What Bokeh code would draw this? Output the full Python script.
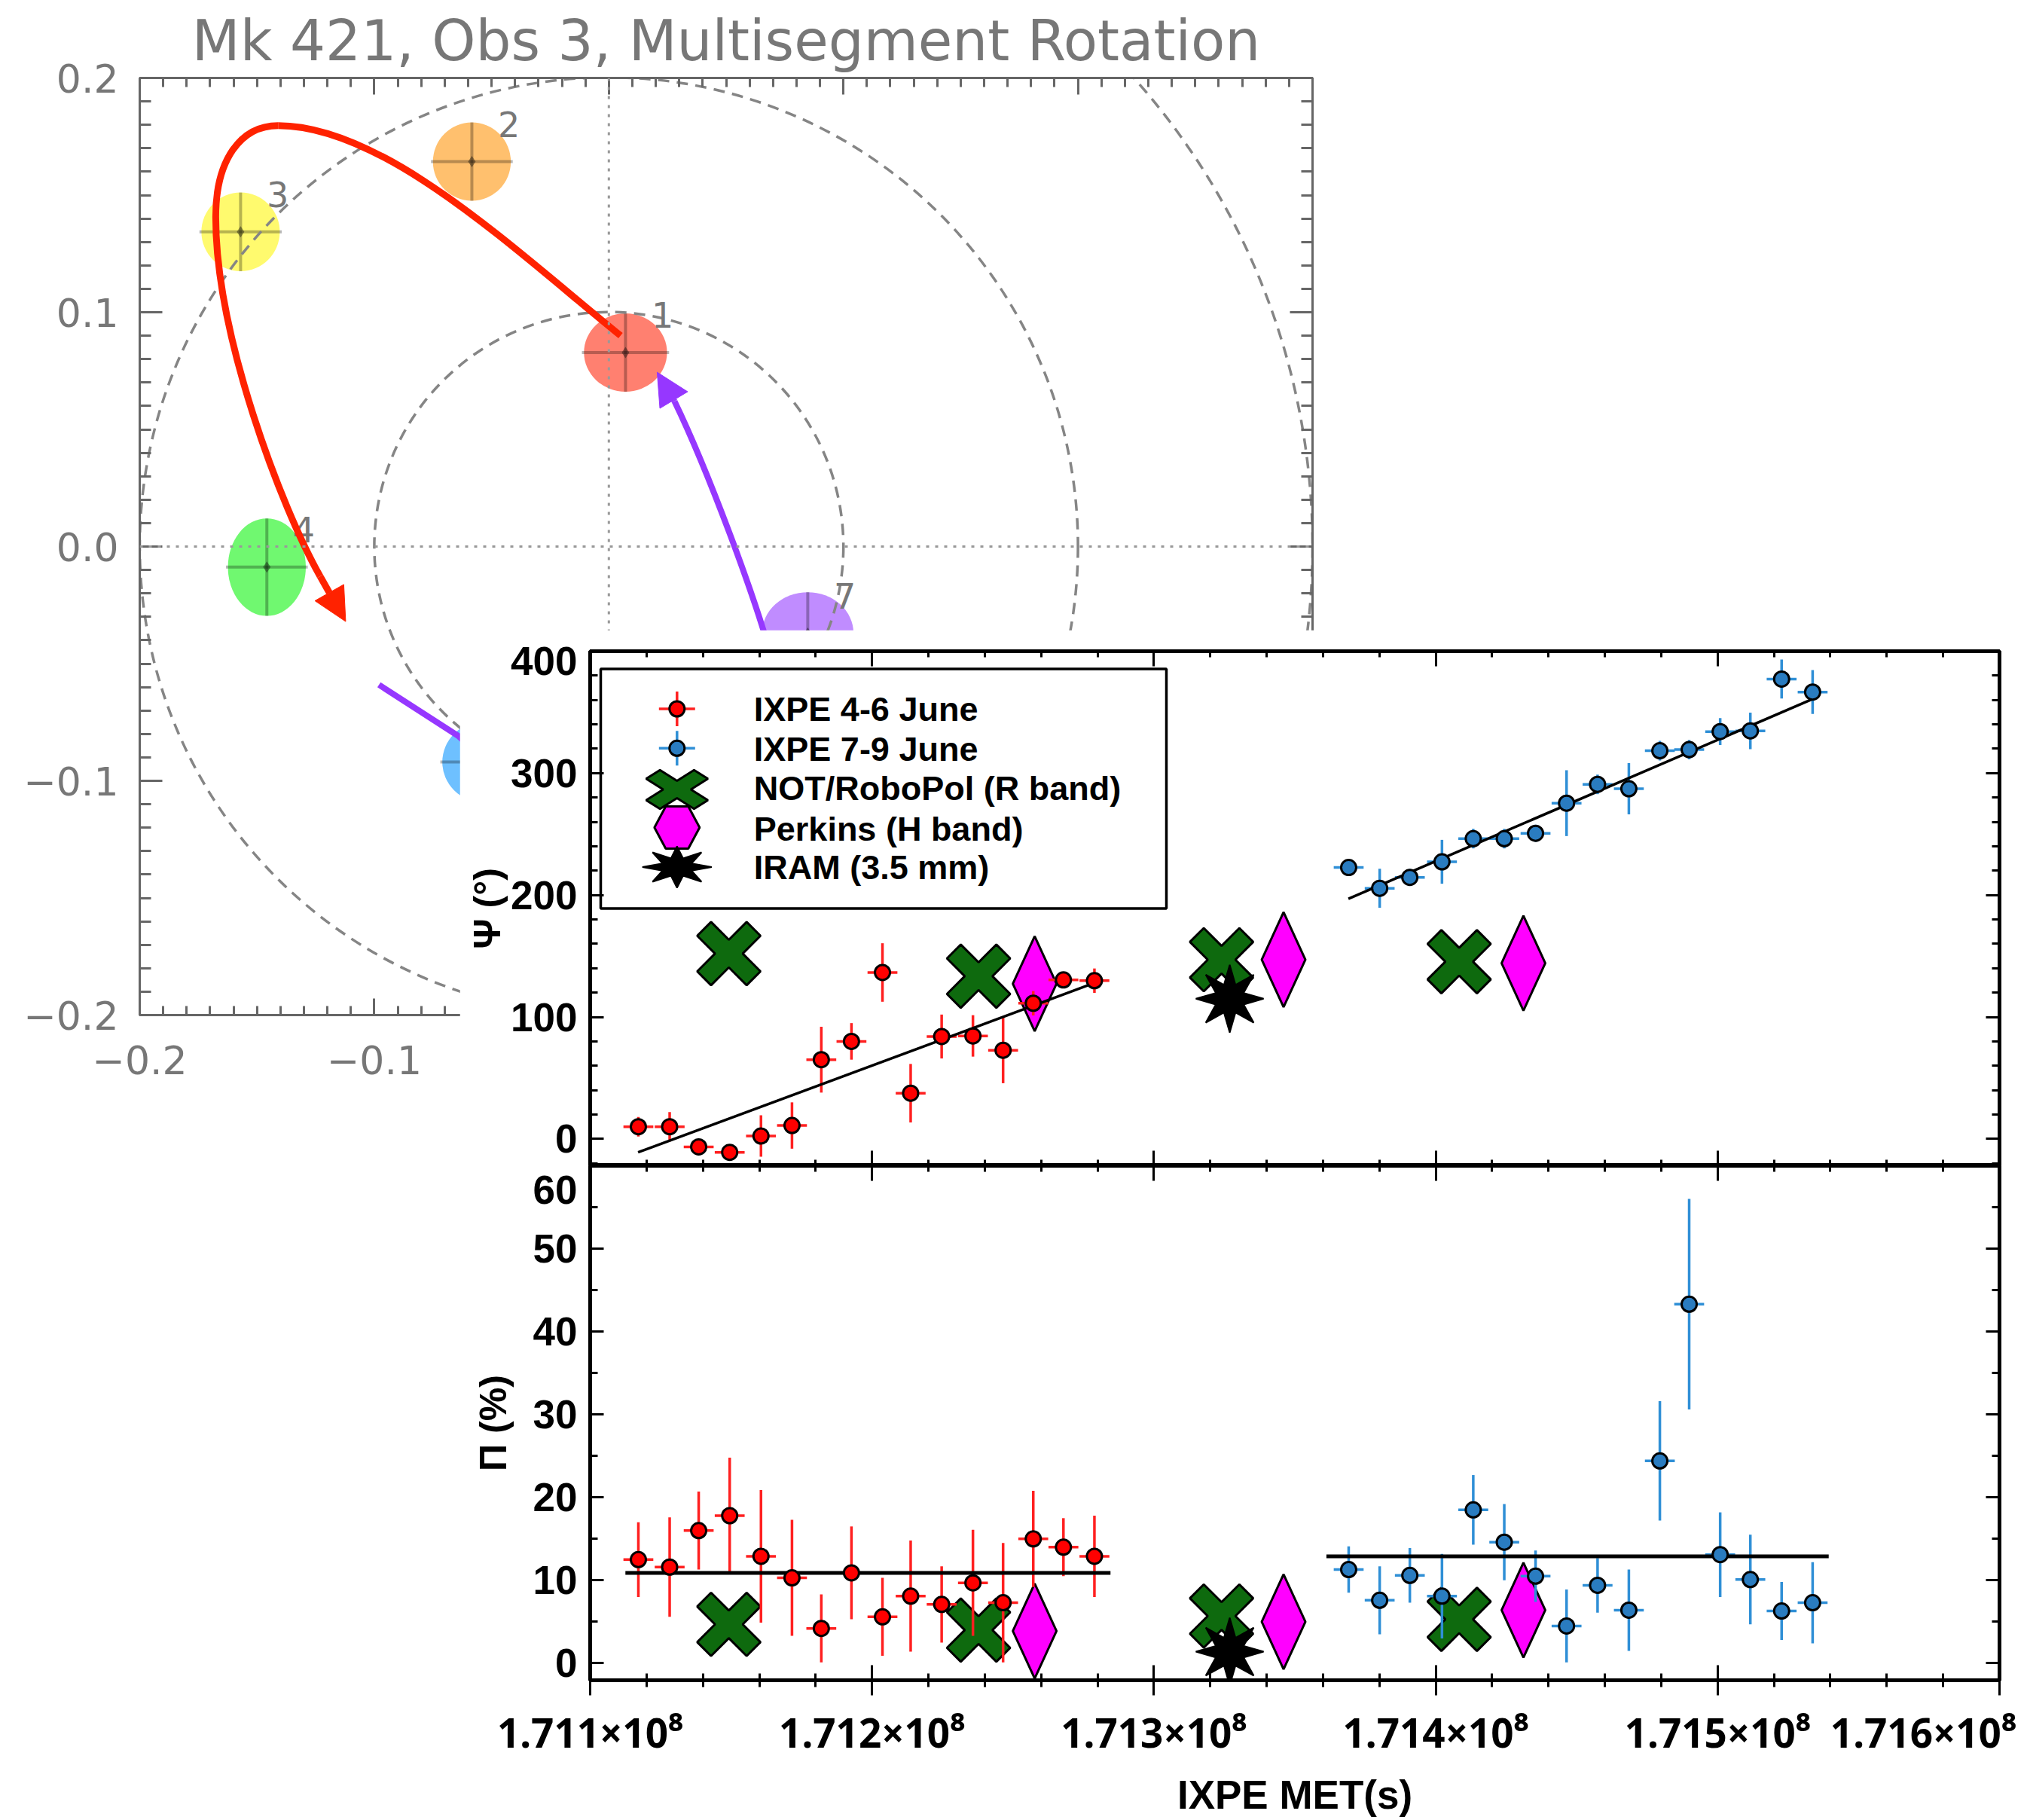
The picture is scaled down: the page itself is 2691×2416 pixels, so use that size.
import math
from bokeh.plotting import figure
from bokeh.models import (Range1d, LinearAxis, SingleIntervalTicker, FixedTicker, CustomJSTickFormatter,
                          Arrow, NormalHead, Span, GridBox)
from bokeh.embed import file_html
from bokeh.resources import INLINE
from bokeh.core.properties import value

# ================= data: Q-U plane (Mk 421, Obs 3) =================
seg_labels = ["1", "2", "3", "4", "5", "7"]
seg_q = [0.0071, -0.0584, -0.1570, -0.1458, -0.0540, 0.0848]
seg_u = [0.0828, 0.1643, 0.1343, -0.0088, -0.0920, -0.0370]
seg_q_err = [0.0177, 0.0166, 0.0167, 0.0166, 0.0170, 0.0195]
seg_u_err = [0.0167, 0.0167, 0.0168, 0.0208, 0.0170, 0.0175]
seg_colors = ["#FF8070", "#FFC06E", "#FFFA6E", "#70F870", "#6EC0FF", "#C08CFF"]
pd_circles = [0.1, 0.2, 0.3]

# red rotation arrow (cubic Bezier pieces) and its head
red_x0 = [0.0050, -0.1410, -0.1676]
red_y0 = [0.0900, 0.1797, 0.1407]
red_x1 = [-0.1410, -0.1676, -0.1231]
red_y1 = [0.1797, 0.1407, -0.0127]
red_cx0 = [-0.0416, -0.1570, -0.1676]
red_cy0 = [0.1279, 0.1797, 0.0900]
red_cx1 = [-0.0960, -0.1676, -0.1396]
red_cy1 = [0.1797, 0.1650, 0.0166]
red_tip = [-0.1122, -0.0320]
# purple rotation arrow
purple_path1_q = [-0.098, -0.064, -0.054]
purple_path1_u = [-0.059, -0.081, -0.090]
purple_x0, purple_y0 = [0.0700], [-0.0500]
purple_cx0, purple_cy0 = [0.0630], [-0.0230]
purple_cx1, purple_cy1 = [0.0420], [0.0330]
purple_x1, purple_y1 = [0.0280], [0.0620]
purple_tip = [0.0206, 0.0744]

# ================= data: inset (IXPE MET) =================
ixpe1_t = [171117100, 171128200, 171138500, 171149500, 171160600, 171171600, 171182000, 171192700,
           171203700, 171213700, 171224700, 171235800, 171246500, 171257200, 171267900, 171278900]
ixpe1_psi = [10, 10, -6.5, -11, 2.4, 11, 65, 80, 136.5, 37.5, 84, 84.5, 72.7, 111.3, 130.4, 129.8]
ixpe1_psi_err = [8, 12, 6, 5, 17, 19, 27, 15, 24, 24, 18, 17, 27, 10, 6, 10]
ixpe1_pi = [12.5, 11.6, 16.0, 17.8, 12.9, 10.3, 4.2, 10.9, 5.6, 8.1, 7.1, 9.7, 7.3, 15.0, 14.0, 12.9]
ixpe1_pi_err = [4.5, 6.0, 4.7, 7.0, 8.0, 7.0, 4.1, 5.6, 4.7, 6.7, 4.6, 6.4, 7.2, 5.8, 3.5, 4.9]

ixpe2_t = [171369100, 171380100, 171390800, 171402200, 171413300, 171424300, 171435400, 171446400,
           171457400, 171468500, 171479500, 171489900, 171500900, 171511600, 171522700, 171533700]
ixpe2_psi = [222.6, 205.6, 214.5, 227.3, 246.3, 246.3, 250.7, 275.4,
             290.8, 287.2, 318.4, 319.3, 334.1, 334.7, 377.2, 366.5]
ixpe2_psi_err = [5, 16, 7, 18, 8, 8, 7, 27, 8, 21, 8, 8, 11, 15, 16, 18]
ixpe2_pi = [11.3, 7.6, 10.6, 8.1, 18.5, 14.6, 10.5, 4.5, 9.4, 6.4, 24.4, 43.3, 13.1, 10.1, 6.3, 7.3]
ixpe2_pi_err = [2.8, 4.1, 3.3, 5.1, 4.2, 4.6, 3.1, 4.4, 3.3, 4.9, 7.2, 12.7, 5.1, 5.4, 3.5, 4.9]
ixpe_t_err = 5300

fit1_psi_t = [171117000, 171279000]
fit1_psi = [-11, 128]
fit2_psi_t = [171369000, 171535900]
fit2_psi = [197, 363]
fit1_pi_t = [171112500, 171284600]
fit1_pi = [10.9, 10.9]
fit2_pi_t = [171361200, 171539400]
fit2_pi = [12.9, 12.9]

robopol_t = [171149200, 171237800, 171324000, 171408300]
robopol_psi = [152, 133.5, 147, 145.4]
robopol_pi = [4.7, 4.0, 5.7, 5.3]
perkins_t = [171257700, 171346000, 171431100]
perkins_psi = [127.3, 147, 144.2]
perkins_pi = [3.9, 5.0, 6.4]
iram_t = [171326900]
iram_psi = [115]
iram_pi = [1.4]

legend_labels = ["IXPE 4-6 June", "IXPE 7-9 June", "NOT/RoboPol (R band)", "Perkins (H band)", "IRAM (3.5 mm)"]

# tick labels (positions where the original figure prints them)
psi_tick_labels = ["0", "100", "200", "300", "400"]
psi_tick_label_pos = [0, 100, 200, 300, 391.7]
pi_tick_labels = ["0", "10", "20", "30", "40", "50", "60"]
pi_tick_label_pos = [0, 10, 20, 30, 40, 50, 57.05]
met_tick_labels = ["1.711\u00d710\u2078", "1.712\u00d710\u2078", "1.713\u00d710\u2078",
                   "1.714\u00d710\u2078", "1.715\u00d710\u2078", "1.716\u00d710\u2078"]
met_tick_label_pos = [171100000, 171200000, 171300000, 171400000, 171500000, 171573000]

# ================= styles =================
QFONT = "DejaVu Sans"
IFONT = "Liberation Sans"
XFONT = "Noto Sans"
QGREY = "#777777"
QAX = "#666666"
RED = "#FF0000"
REDBAR = "#FF2020"
BLUE = "#2A7CC0"
BLUEBAR = "#2F8FD6"
GREEN = "#0E6A0E"
MAGENTA = "#FF00FF"

# ================= Q-U figure =================
qu = figure(frame_width=1557, frame_height=1244, x_range=Range1d(-0.2, 0.3), y_range=Range1d(-0.2, 0.2),
            min_border_left=185, min_border_right=18, min_border_top=103, min_border_bottom=113,
            x_axis_location=None, y_axis_location=None, output_backend="svg", toolbar_location=None,
            title="Mk 421, Obs 3, Multisegment Rotation")
qu.xgrid.visible = False
qu.ygrid.visible = False
qu.outline_line_color = QAX
qu.outline_line_width = 3
qu.title.text_font = QFONT
qu.title.text_font_size = "74px"
qu.title.text_font_style = "normal"
qu.title.text_color = QGREY
qu.title.align = "center"
qu.title.standoff = 13

qu_fmt = CustomJSTickFormatter(code="""
const v = Math.round(tick * 10) / 10;
if (Math.abs(v) < 1e-9) { return '0.0'; }
return (v < 0 ? '\u2212' : '') + Math.abs(v).toFixed(1);
""")


def hide_labels(ax):
    ax.major_label_text_font_size = "0px"
    ax.major_label_text_color = None
    ax.major_label_standoff = 0


def qu_axis(place, major_len, minor_len, labels, standoff=0):
    ax = LinearAxis(ticker=SingleIntervalTicker(interval=0.1, num_minor_ticks=10), formatter=qu_fmt)
    ax.axis_line_color = QAX
    ax.axis_line_width = 3
    ax.major_tick_line_color = QAX
    ax.major_tick_line_width = 3
    ax.minor_tick_line_color = QAX
    ax.minor_tick_line_width = 3
    ax.major_tick_in = major_len
    ax.major_tick_out = 0
    ax.minor_tick_in = minor_len
    ax.minor_tick_out = 0
    if labels:
        ax.major_label_text_font = QFONT
        ax.major_label_text_font_size = "52px"
        ax.major_label_text_color = QGREY
        ax.major_label_standoff = standoff
    else:
        hide_labels(ax)
    qu.add_layout(ax, place)


qu_axis("below", 22, 12, True, 40)
qu_axis("left", 30, 15, True, 28)
qu_axis("above", 22, 12, False)
qu_axis("right", 30, 15, False)

qu.add_layout(Span(location=0, dimension="height", line_color="#999999", line_dash="4 8", line_width=3))
qu.add_layout(Span(location=0, dimension="width", line_color="#999999", line_dash="4 8", line_width=3))

qu.ellipse(x=seg_q, y=seg_u, width=[2 * e for e in seg_q_err], height=[2 * e for e in seg_u_err],
           fill_color=seg_colors, line_color=None)
qu.segment(x0=[q - e * 1.05 for q, e in zip(seg_q, seg_q_err)], y0=seg_u,
           x1=[q + e * 1.05 for q, e in zip(seg_q, seg_q_err)], y1=seg_u,
           line_color="black", line_alpha=0.28, line_width=4)
qu.segment(x0=seg_q, y0=[u - e for u, e in zip(seg_u, seg_u_err)],
           x1=seg_q, y1=[u + e for u, e in zip(seg_u, seg_u_err)],
           line_color="black", line_alpha=0.28, line_width=4)
qu.scatter(x=seg_q, y=seg_u, marker="diamond", size=15, fill_color="black", fill_alpha=0.4, line_color=None)
qu.circle(x=[0] * len(pd_circles), y=[0] * len(pd_circles), radius=pd_circles,
          fill_color=None, line_color="#858585", line_dash="15 10", line_width=3.5)
qu.text(x=[q + 0.0158 for q in seg_q], y=[u + 0.016 for u in seg_u], text=seg_labels,
        text_font=value(QFONT), text_font_size="46px", text_color=QGREY,
        text_align="center", text_baseline="middle")

RCOL = "#FF2200"
PCOL = "#9637FF"
qu.bezier(x0=red_x0, y0=red_y0, x1=red_x1, y1=red_y1, cx0=red_cx0, cy0=red_cy0, cx1=red_cx1, cy1=red_cy1,
          line_color=RCOL, line_width=9)
qu.add_layout(Arrow(end=NormalHead(size=44, fill_color=RCOL, line_color=RCOL, line_width=1),
                    x_start=red_x1[-1], y_start=red_y1[-1], x_end=red_tip[0], y_end=red_tip[1],
                    line_color=RCOL, line_width=9))
qu.line(purple_path1_q, purple_path1_u, line_color=PCOL, line_width=8)
qu.bezier(x0=purple_x0, y0=purple_y0, x1=purple_x1, y1=purple_y1, cx0=purple_cx0, cy0=purple_cy0,
          cx1=purple_cx1, cy1=purple_cy1, line_color=PCOL, line_width=8)
qu.add_layout(Arrow(end=NormalHead(size=43, fill_color=PCOL, line_color=PCOL, line_width=1),
                    x_start=purple_x1[-1], y_start=purple_y1[-1],
                    x_end=purple_tip[0], y_end=purple_tip[1], line_color=PCOL, line_width=8))

# ================= inset figures =================
X0, X1 = 171100000, 171600000
FW, FH = 1871, 683
PSI_RANGE = (-22, 400)
PI_RANGE = (-2.05, 60)
SX = (X1 - X0) / FW
SY_TOP = (PSI_RANGE[1] - PSI_RANGE[0]) / FH
SY_BOT = (PI_RANGE[1] - PI_RANGE[0]) / FH

R2 = math.sqrt(2)


def x_points(h=42.0, w=13.0, ys=1.0):
    L = h * R2 - w
    a = (L - w) / R2
    b = (L + w) / R2
    c = w * R2
    pts = [(0, c), (a, b), (b, a), (c, 0), (b, -a), (a, -b), (0, -c), (-a, -b), (-b, -a), (-c, 0), (-b, a), (-a, b)]
    return [(px, py * ys) for px, py in pts]


def star_points(ro=45.0, ri=20.0, n=8, ys=1.0):
    pts = []
    for k in range(2 * n):
        r = ro if k % 2 == 0 else ri
        ang = math.pi / 2 + k * math.pi / n
        pts.append((r * math.cos(ang), r * math.sin(ang) * ys))
    return pts


DIAMOND_PTS = [(0, 63), (29, 0), (0, -63), (-29, 0)]
X_PTS = x_points()
STAR_PTS = star_points()


def place(pts, cx, cy, sx, sy):
    return [cx + px * sx for px, _ in pts], [cy + py * sy for _, py in pts]


def make_inset(y_range, top_border, bottom_border):
    p = figure(frame_width=FW, frame_height=FH, x_range=Range1d(X0, X1), y_range=Range1d(*y_range),
               min_border_left=173, min_border_right=37, min_border_top=top_border,
               min_border_bottom=bottom_border, x_axis_location=None, y_axis_location=None,
               output_backend="svg", toolbar_location=None)
    p.xgrid.visible = False
    p.ygrid.visible = False
    p.outline_line_color = "black"
    p.outline_line_width = 5
    p.background_fill_color = "white"
    p.border_fill_color = "white"
    return p


def tick_axis(ticker, tin, tout, mtin, mtout):
    ax = LinearAxis(ticker=ticker)
    ax.axis_line_color = "black"
    ax.axis_line_width = 5
    ax.major_tick_line_color = "black"
    ax.major_tick_line_width = 3
    ax.minor_tick_line_color = "black"
    ax.minor_tick_line_width = 3
    ax.major_tick_in = tin
    ax.major_tick_out = tout
    ax.minor_tick_in = mtin
    ax.minor_tick_out = mtout
    hide_labels(ax)
    return ax


def label_axis(pos, texts, font, standoff):
    fmt = CustomJSTickFormatter(args=dict(pos=pos, txt=texts),
                                code="const i = pos.indexOf(tick); return i < 0 ? '' : txt[i];")
    ax = LinearAxis(ticker=FixedTicker(ticks=pos), formatter=fmt)
    ax.axis_line_color = None
    ax.major_tick_line_color = None
    ax.minor_tick_line_color = None
    ax.major_tick_in = 0
    ax.major_tick_out = 0
    ax.minor_tick_in = 0
    ax.minor_tick_out = 0
    ax.major_label_text_font = font
    ax.major_label_text_font_size = "53px"
    ax.major_label_text_font_style = "bold"
    ax.major_label_text_color = "black"
    ax.major_label_standoff = standoff
    ax.axis_label_text_color = "black"
    ax.axis_label_text_font = IFONT
    ax.axis_label_text_font_style = "bold"
    return ax


top = make_inset(PSI_RANGE, 28, 0)
bot = make_inset(PI_RANGE, 0, 185)

for p, yint, ynum, lpos, ltxt, ylabel, lab_standoff in [
        (top, 100, 5, psi_tick_label_pos, psi_tick_labels, "\u03a8 (\u00b0)", 0),
        (bot, 10, 2, pi_tick_label_pos, pi_tick_labels, "\u03a0 (%)", 22)]:
    p.add_layout(tick_axis(SingleIntervalTicker(interval=yint, num_minor_ticks=ynum), 18, 0, 10, 0), "left")
    lab = label_axis(lpos, ltxt, IFONT, 17)
    lab.axis_label = ylabel
    lab.axis_label_text_font_size = "50px"
    lab.axis_label_standoff = lab_standoff
    p.add_layout(lab, "left")
    p.add_layout(tick_axis(SingleIntervalTicker(interval=yint, num_minor_ticks=ynum), 18, 0, 10, 0), "right")
    p.add_layout(tick_axis(SingleIntervalTicker(interval=100000, num_minor_ticks=5), 20, 0, 8, 0), "above")

top.add_layout(tick_axis(SingleIntervalTicker(interval=100000, num_minor_ticks=5), 20, 0, 8, 0), "below")

bot.add_layout(tick_axis(SingleIntervalTicker(interval=100000, num_minor_ticks=5), 20, 20, 9, 9), "below")
met_ax = label_axis(met_tick_label_pos, met_tick_labels, XFONT, 12)
met_ax.axis_label = "IXPE MET(s)"
met_ax.axis_label_text_font_size = "53px"
met_ax.axis_label_standoff = 14
bot.add_layout(met_ax, "below")


def draw_panel(p, sy, rob_y, per_y, iram_y, y1, e1, y2, e2, f1t, f1y, f2t, f2y, fit_w):
    xs, ys = [], []
    for t, y in zip(robopol_t, rob_y):
        a, b = place(X_PTS, t, y, SX, sy)
        xs.append(a); ys.append(b)
    p.patches(xs, ys, fill_color=GREEN, line_color="black", line_width=3)
    xs, ys = [], []
    for t, y in zip(perkins_t, per_y):
        a, b = place(DIAMOND_PTS, t, y, SX, sy)
        xs.append(a); ys.append(b)
    p.patches(xs, ys, fill_color=MAGENTA, line_color="black", line_width=3)
    xs, ys = [], []
    for t, y in zip(iram_t, iram_y):
        a, b = place(STAR_PTS, t, y, SX, sy)
        xs.append(a); ys.append(b)
    p.patches(xs, ys, fill_color="black", line_color="black", line_width=2)

    for tt, yy, ee, bar in [(ixpe1_t, y1, e1, REDBAR), (ixpe2_t, y2, e2, BLUEBAR)]:
        p.segment(x0=tt, y0=[y - e for y, e in zip(yy, ee)], x1=tt, y1=[y + e for y, e in zip(yy, ee)],
                  line_color=bar, line_width=3.5)
        p.segment(x0=[t - ixpe_t_err for t in tt], y0=yy, x1=[t + ixpe_t_err for t in tt], y1=yy,
                  line_color=bar, line_width=3.5)
    p.line(f1t, f1y, line_color="black", line_width=fit_w)
    p.line(f2t, f2y, line_color="black", line_width=fit_w)
    p.scatter(ixpe1_t, y1, size=20, fill_color=RED, line_color="black", line_width=3)
    p.scatter(ixpe2_t, y2, size=20, fill_color=BLUE, line_color="black", line_width=3)


draw_panel(top, SY_TOP, robopol_psi, perkins_psi, iram_psi, ixpe1_psi, ixpe1_psi_err,
           ixpe2_psi, ixpe2_psi_err, fit1_psi_t, fit1_psi, fit2_psi_t, fit2_psi, 3.5)
draw_panel(bot, SY_BOT, robopol_pi, perkins_pi, iram_pi, ixpe1_pi, ixpe1_pi_err,
           ixpe2_pi, ixpe2_pi_err, fit1_pi_t, fit1_pi, fit2_pi_t, fit2_pi, 5)

# ---- legend (drawn in frame pixel coordinates) ----
top.extra_x_ranges = {"px": Range1d(0, FW)}
top.extra_y_ranges = {"py": Range1d(0, FH)}
L = dict(x_range_name="px", y_range_name="py")
top.quad(left=[14], right=[765], bottom=[341.5], top=[659.5], fill_color="white",
         line_color="black", line_width=3.5, **L)
gx = 115.3
row_y = [606.5, 554.2, 499.5, 449.0, 396.5]
for ry, bar, fill in [(row_y[0], REDBAR, RED), (row_y[1], BLUEBAR, BLUE)]:
    top.segment(x0=[gx], y0=[ry - 23], x1=[gx], y1=[ry + 23], line_color=bar, line_width=3.5, **L)
    top.segment(x0=[gx - 24], y0=[ry], x1=[gx + 24], y1=[ry], line_color=bar, line_width=3.5, **L)
    top.scatter([gx], [ry], size=20, fill_color=fill, line_color="black", line_width=3, **L)
a, b = place(x_points(41, 13, 0.63), gx, row_y[2], 1, 1)
top.patch(a, b, fill_color=GREEN, line_color="black", line_width=3, **L)
hexa = [(-15, 28), (15, 28), (30, 0), (15, -28), (-15, -28), (-30, 0)]
a, b = place(hexa, gx, row_y[3], 1, 1)
top.patch(a, b, fill_color=MAGENTA, line_color="black", line_width=3, **L)
a, b = place(star_points(46, 21, 8, 0.6), gx, row_y[4], 1, 1)
top.patch(a, b, fill_color="black", line_color="black", line_width=2, **L)
top.text(x=[217.3] * 5, y=[606, 553.5, 500.8, 447.5, 395.8], text=legend_labels,
         text_font=value(IFONT), text_font_size="45px", text_font_style="bold", text_color="black",
         text_align="left", text_baseline="middle", **L)

# ================= composition =================
grid = GridBox(children=[(qu, 0, 0, 2, 2), (top, 1, 1, 2, 2), (bot, 3, 1, 1, 2)],
               rows=["836px", "624px", "87px", "869px"], cols=["610px", "1150px", "931px"])

open("out.html", "w").write(file_html(grid, INLINE))
